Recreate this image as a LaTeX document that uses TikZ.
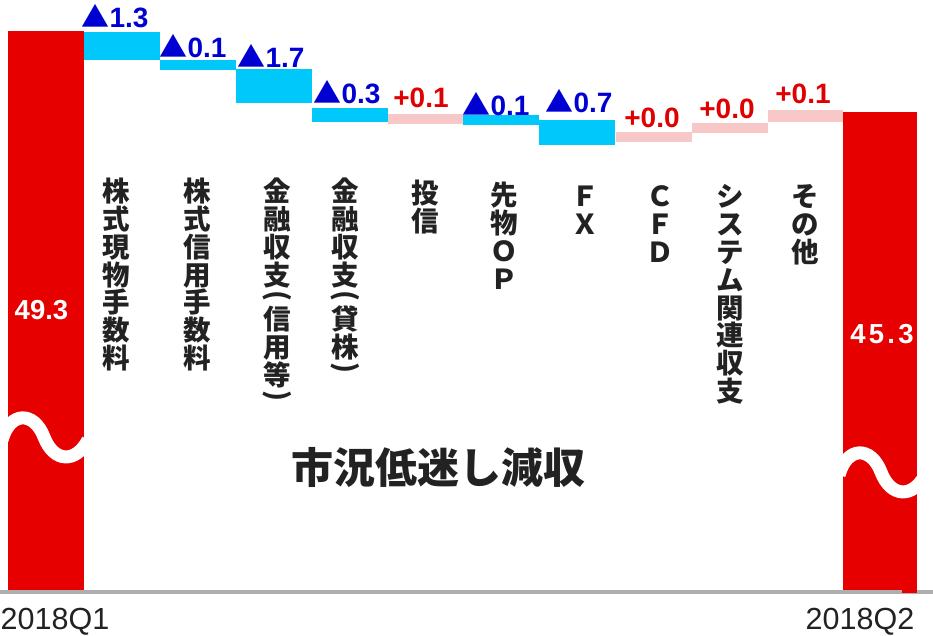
\documentclass[tikz,border=0pt]{standalone}
\usepackage{fontspec}
\usepackage{graphicx}
\setmainfont{Liberation Sans}
\newfontfamily\jpf{Noto Sans CJK JP}
\definecolor{tred}{RGB}{230,0,0}
\definecolor{tblue}{RGB}{0,200,250}
\definecolor{tpink}{RGB}{248,200,200}
\definecolor{lblue}{RGB}{0,0,210}
\definecolor{lred}{RGB}{225,0,0}
\definecolor{inkc}{RGB}{34,34,34}
\definecolor{axisgray}{RGB}{174,174,174}
\newcommand\vlp{\raisebox{-2.5pt}{\rotatebox[origin=c]{-90}{(}}}
\newcommand\vrp{\raisebox{-2.5pt}{\rotatebox[origin=c]{-90}{)}}}
\newcommand\tri{{\jpf ▲}}
\begin{document}
\begin{tikzpicture}[x=1pt,y=-1pt,
  totalbar/.style={fill=tred},
  downbar/.style={fill=tblue},
  upbar/.style={fill=tpink},
  downlbl/.style={font=\bfseries\fontsize{28}{28}\selectfont,text=lblue,inner sep=0,anchor=base},
  uplbl/.style={font=\bfseries\fontsize{28}{28}\selectfont,text=lred,inner sep=0,anchor=base},
  totlbl/.style={font=\bfseries\fontsize{27.5}{27.5}\selectfont,text=white,inner sep=0,anchor=base},
  catlbl/.style={font=\jpf\bfseries\fontsize{27.5}{27.8}\selectfont,text=inkc,align=center,inner sep=0,anchor=north},
  qlbl/.style={font=\fontsize{30.5}{30.5}\selectfont,text=inkc,inner sep=0,anchor=base},
  wave/.style={draw=white,line width=13pt},
]
\useasboundingbox (0,0) rectangle (933,635);
\fill[white] (0,0) rectangle (933,635);

% axis
\fill[axisgray] (0,589.5) rectangle (933,593.5);

% total bars
\fill[totalbar] (8,31) rectangle (84,589.5);
\fill[totalbar] (843,112) rectangle (917,589.5);
\fill[totalbar] (902,589) rectangle (917,592.5);

% change bars
\fill[downbar] (84,32) rectangle (160,60);
\fill[downbar] (160,60) rectangle (236,70);
\fill[downbar] (236,69) rectangle (312,103);
\fill[downbar] (312,108) rectangle (388,122);
\fill[upbar]   (388,114) rectangle (463,124);
\fill[downbar] (463,115) rectangle (539,125);
\fill[downbar] (539,120) rectangle (615,145);
\fill[upbar]   (616,132) rectangle (692,142);
\fill[upbar]   (692,123) rectangle (768,133);
\fill[upbar]   (768,110) rectangle (843,122);

% break waves
\draw[wave] (2,440) .. controls (10,411) and (34,411) .. (44,437) .. controls (54,463) and (76,463) .. (88,440);
\draw[wave] (839,475) .. controls (847,446) and (871,446) .. (881,472) .. controls (891,498) and (913,498) .. (925,475);

% value labels
\node[downlbl] (v1) at (115,27) {\tri1.3};
\node[downlbl] (v2) at (193,57) {\tri0.1};
\node[downlbl] (v3) at (271,67) {\tri1.7};
\node[downlbl] (v4) at (347,103) {\tri0.3};
\node[uplbl]   (v5) at (421,107) {+0.1};
\node[downlbl] (v6) at (496,115) {\tri0.1};
\node[downlbl] (v7) at (579,112) {\tri0.7};
\node[uplbl]   (v8) at (652,127) {+0.0};
\node[uplbl]   (v9) at (727,118) {+0.0};
\node[uplbl]   (v10) at (803,103) {+0.1};

% totals
\node[totlbl] (t1) at (41.5,319) {49.3};
\node[totlbl] (t2) at (882,343) {\addfontfeature{LetterSpace=12}45.3};

% category labels
\node[catlbl] (c1) at (116,178) {株\\式\\現\\物\\手\\数\\料};
\node[catlbl] (c2) at (197,178) {株\\式\\信\\用\\手\\数\\料};
\node[catlbl] (c3) at (277,178) {金\\融\\収\\支\\[-11pt]\vlp\\信\\用\\等\\[-11pt]\vrp};
\node[catlbl] (c4) at (345,178) {金\\融\\収\\支\\[-11pt]\vlp\\貸\\株\\[-11pt]\vrp};
\node[catlbl] (c5) at (425,180) {投\\信};
\node[catlbl] (c6) at (504,182) {先\\物\\Ｏ\\Ｐ};
\node[catlbl] (c7) at (585,183) {\vphantom{金}Ｆ\\Ｘ};
\node[catlbl] (c8) at (660,183) {\vphantom{金}Ｃ\\Ｆ\\Ｄ};
\node[catlbl] (c9) at (730.5,183) {\vphantom{金}シ\\ス\\テ\\ム\\関\\連\\収\\支};
\node[catlbl] (c10) at (805,183) {\vphantom{金}そ\\の\\他};

% title
\node[font=\jpf\bfseries\fontsize{42}{42}\selectfont,text=inkc,inner sep=0] (title) at (438,467.5) {市況低迷し減収};

% period labels
\node[qlbl] (q1) at (55,629.5) {2018Q1};
\node[qlbl] (q2) at (860,629.5) {2018Q2};
\end{tikzpicture}
\end{document}
